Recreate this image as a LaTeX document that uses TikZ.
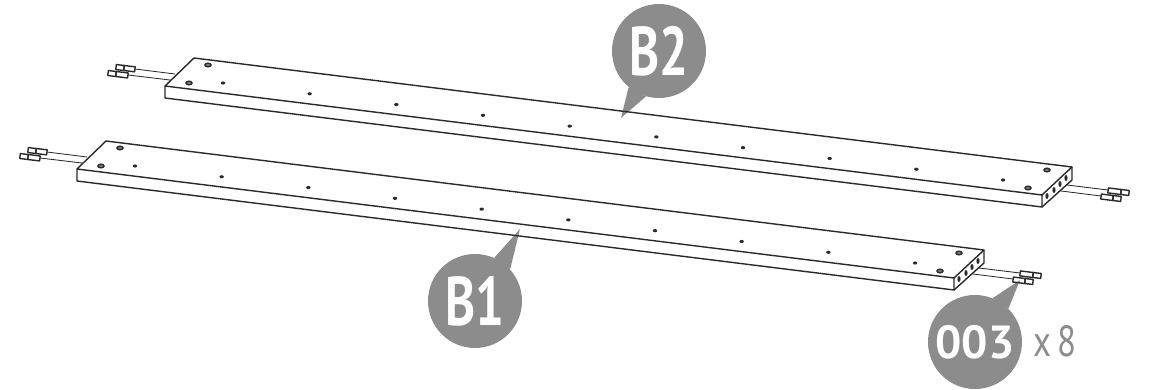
\documentclass[tikz,border=0pt]{standalone}
\usepackage{fontspec}
\setmainfont{PT Sans}
\usetikzlibrary{calc}
\definecolor{bubblegrey}{HTML}{8C8C8C}
\definecolor{linegrey}{HTML}{2A2A2A}
\tikzset{
  edgeline/.style={draw=linegrey, line width=1pt, line join=round},
  wireline/.style={draw=linegrey, line width=0.6pt},
  bubble/.style={circle, fill=bubblegrey, minimum size=2.35cm, inner sep=0pt, text=white},
  bigtext/.style={font=\fontsize{49}{49}\selectfont\bfseries},
  midtext/.style={font=\fontsize{33}{33}\selectfont\bfseries},
}
\begin{document}
\begin{tikzpicture}[x=0.025cm, y=-0.025cm]
\useasboundingbox (0,0) rectangle (1160,389);

% Callouts
\node[bubble, bigtext] (labelB2) at (659,51) {\scalebox{0.74}[1]{B2}};
\node[bubble, bigtext] (labelB1) at (475,301) {\scalebox{0.74}[1]{B1}};
\node[bubble, midtext] (label003) at (975,342) {003};
\coordinate (tipB2) at (621,118);
\coordinate (tipB1) at (520,229);
\coordinate (tip003) at (1020,280);
\fill[bubblegrey] (labelB2.230) -- (tipB2) -- (labelB2.254) -- cycle;
\fill[bubblegrey] (labelB1.66) -- (tipB1) -- (labelB1.42) -- cycle;
\fill[bubblegrey] (label003.68) -- (tip003) -- (label003.45) -- cycle;
\node[text=bubblegrey, font=\fontsize{31}{31}\selectfont, anchor=center] (count) at (1055,341) {\scalebox{0.8}[1]{x\,8}};

% Boards, B2 then B1
\foreach \dx/\dy in {0/0,-88/83} {
  \begin{scope}[shift={(\dx,\dy)}]
    % Outline
    \draw[edgeline] (165,86) -- (194,58) -- (1072,167) -- (1042,195) -- cycle;
    \draw[edgeline] (165,86) -- (165,98) -- (1042,207) -- (1042,195);
    \draw[edgeline] (1042,207) -- (1072,180) -- (1072,167);
    % Dowel holes in the top face
    \foreach \i in {0,1,...,9} {
      \pgfmathsetmacro{\x}{223 + \i * 86.67}
      \pgfmathsetmacro{\y}{83 + \i * 10.78}
      \fill[linegrey] (\x,\y) ellipse (2.2 and 1.6);
    }
    \foreach \x/\y in {208/65,189/83,1047/170,1028/188} {
      \draw[linegrey, line width=1pt, fill=gray] (\x,\y) ellipse (3 and 1.8);
    }
    % Holes in the end face
    \foreach \x/\y in {1047/196,1054/190,1060/184,1066/178} {
      \fill[linegrey] (\x,\y) ellipse (1.6 and 3);
    }
    % Wires
    \draw[wireline] (175,74) -- (135,69);
    \draw[wireline] (170,80) -- (128,75);
    \draw[wireline] (1067,185) -- (1108,190);
    \draw[wireline] (1061,191) -- (1101,196);
    % Connectors at the wire ends
    \foreach \jx/\jy/\big/\small in {124/68/11/-8,116/74/12/-8,1121/192/-13/8,1113/198/-12/8} {
      \begin{scope}[shift={(\jx,\jy)}, rotate=-7]
        \draw[edgeline] (0,-2.5) rectangle (\big,2.5);
        \draw[edgeline] (0,-2.5) rectangle (\small,2.5);
      \end{scope}
    }
  \end{scope}
}
\end{tikzpicture}
\end{document}
